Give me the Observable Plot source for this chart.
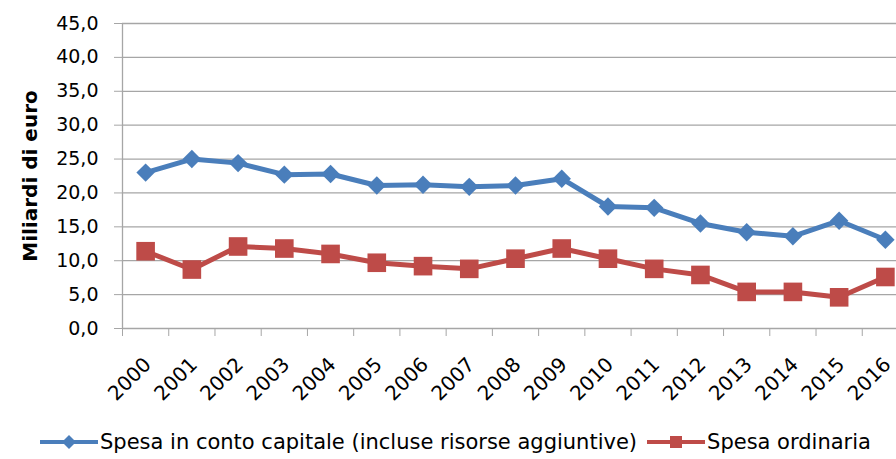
<!DOCTYPE html>
<html><head><meta charset="utf-8">
<script src="https://cdn.jsdelivr.net/npm/d3@7"></script>
<script src="https://cdn.jsdelivr.net/npm/@observablehq/plot@0.6"></script>
<style>
html,body{margin:0;padding:0;background:#fff;overflow:hidden;width:896px;height:459px;}
#legend{display:flex;align-items:center;height:34px;padding-left:38px;font-family:"DejaVu Sans",sans-serif;font-size:21px;color:#000;}
#legend .item{display:flex;align-items:center;margin-right:8px;white-space:nowrap;}
#legend svg{display:block;}
</style>
</head><body>
<div id="chart"></div>
<div id="legend"></div>
<script>
const years = [2000,2001,2002,2003,2004,2005,2006,2007,2008,2009,2010,2011,2012,2013,2014,2015,2016];
const spesaCapitale = [23.0,25.0,24.4,22.7,22.8,21.1,21.2,20.9,21.1,22.1,18.0,17.8,15.5,14.2,13.6,15.9,13.1];
const spesaOrdinaria = [11.4,8.7,12.1,11.8,11.0,9.7,9.2,8.8,10.3,11.8,10.3,8.8,7.9,5.4,5.4,4.6,7.6];
const yTicks = [0,5,10,15,20,25,30,35,40,45];
const seriesNames = ["Spesa in conto capitale (incluse risorse aggiuntive)", "Spesa ordinaria"];
const colors = ["#4A7EBB", "#BE4B48"];
const yTitle = "Miliardi di euro";

const data = years.flatMap((y, i) => [
  {year: y, value: spesaCapitale[i], serie: seriesNames[0]},
  {year: y, value: spesaOrdinaria[i], serie: seriesNames[1]}
]);
const boundaries = years.map(y => y - 0.5).concat([years[years.length-1] + 0.5]);
const fmt = d => d.toFixed(1).replace(".", ",");
const font = "DejaVu Sans, sans-serif";

const plot = Plot.plot({
  width: 896,
  height: 425,
  marginLeft: 122,
  marginRight: 0,
  marginTop: 23,
  marginBottom: 97,
  style: {fontFamily: font, fontSize: "19px", color: "#000", background: "#fff", overflow: "hidden"},
  x: {type: "linear", domain: [boundaries[0], boundaries[boundaries.length-1]], range: [122, 908]},
  y: {domain: [0, 45], ticks: yTicks},
  marks: [
    Plot.gridY(yTicks, {stroke: "#a6a6a6", strokeOpacity: 1, strokeWidth: 1.3}),
    Plot.axisY(yTicks, {tickFormat: fmt, tickSize: 8, stroke: "#a6a6a6", tickPadding: 16, fontSize: 19, label: null}),
    Plot.axisX(boundaries, {tickSize: 8, stroke: "#a6a6a6", tickFormat: () => "", label: null}),
    Plot.ruleX([boundaries[0]], {stroke: "#a6a6a6", strokeWidth: 1.3}),
    Plot.axisX(years, {tickSize: 0, tickRotate: -45, tickFormat: d => String(d), fontSize: 20, label: null, dy: 21, dx: 2}),
    Plot.lineY(data, {x: "year", y: "value", z: "serie", stroke: "serie", strokeWidth: 5}),
    Plot.dot(data.filter(d => d.serie === seriesNames[0]), {x: "year", y: "value", symbol: "diamond2", r: 8.3, fill: colors[0], stroke: "none"}),
    Plot.dot(data.filter(d => d.serie === seriesNames[1]), {x: "year", y: "value", symbol: "square", r: 10.5, fill: colors[1], stroke: "none"}),
    Plot.text([yTitle], {frameAnchor: "left", dx: -92, rotate: -90, text: d => d, fontWeight: "bold", fontSize: 20, textAnchor: "middle", lineAnchor: "middle"})
  ],
  color: {domain: seriesNames, range: colors}
});
document.getElementById("chart").appendChild(plot);

// legend
const legend = d3.select("#legend");
seriesNames.forEach((name, i) => {
  const item = legend.append("div").attr("class", "item");
  const svg = item.append("svg").attr("width", 62).attr("height", 24);
  svg.append("line").attr("x1", 2).attr("x2", 60).attr("y1", 12).attr("y2", 12)
    .attr("stroke", colors[i]).attr("stroke-width", 4);
  if (i === 0) {
    svg.append("path").attr("d", "M31,5 L38,12 L31,19 L24,12 Z").attr("fill", colors[i]);
  } else {
    svg.append("rect").attr("x", 25).attr("y", 6).attr("width", 12).attr("height", 12).attr("fill", colors[i]);
  }
  item.append("span").text(name);
});
</script>
</body></html>
